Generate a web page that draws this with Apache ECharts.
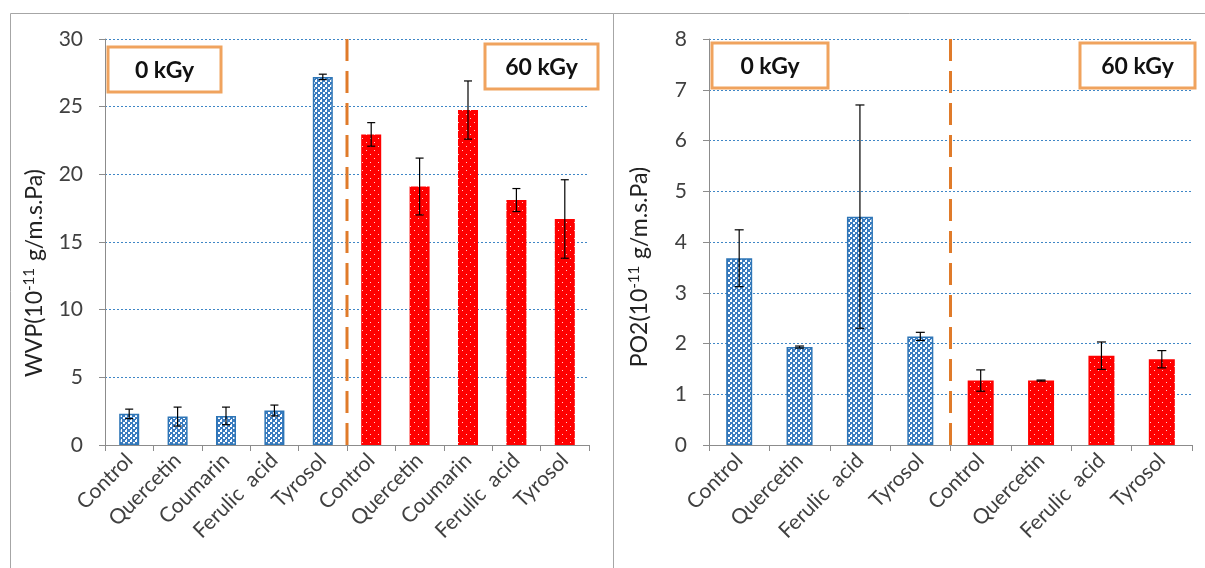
<!DOCTYPE html>
<html>
<head>
<meta charset="utf-8">
<script src="https://cdn.jsdelivr.net/npm/echarts@6/dist/echarts.min.js"></script>
<style>
html,body{margin:0;padding:0;background:#fff;}
#main{width:1205px;height:568px;}
</style>
</head>
<body>
<div id="main"></div>
<script>
// ---- data ----
const leftCategories = ['Control','Quercetin','Coumarin','Ferulic  acid','Tyrosol','Control','Quercetin','Coumarin','Ferulic  acid','Tyrosol'];
const leftValues0kGy = [2.3, 2.1, 2.15, 2.55, 27.2];
const leftErrors0kGy = [0.35, 0.7, 0.65, 0.4, 0.2];
const leftValues60kGy = [22.95, 19.1, 24.75, 18.1, 16.7];
const leftErrors60kGy = [0.87, 2.1, 2.15, 0.85, 2.9];

const rightCategories = ['Control','Quercetin','Ferulic  acid','Tyrosol','Control','Quercetin','Ferulic  acid','Tyrosol'];
const rightValues0kGy = [3.68, 1.93, 4.5, 2.14];
const rightErrors0kGy = [0.56, 0.02, 2.2, 0.08];
const rightValues60kGy = [1.27, 1.27, 1.76, 1.69];
const rightErrors60kGy = [0.21, 0.01, 0.27, 0.17];

const leftYTicks = {min: 0, max: 30, interval: 5};
const rightYTicks = {min: 0, max: 8, interval: 1};

// ---- patterns ----
function blueTile() {
  const c = document.createElement('canvas'); c.width = 5; c.height = 5;
  const g = c.getContext('2d');
  g.fillStyle = '#3a7cc0'; g.fillRect(0,0,5,5);
  g.fillStyle = '#ffffff'; g.fillRect(0,0,2,2); g.fillRect(3,2,2,2); g.fillRect(1,4,1,1);
  return c;
}
function redTile() {
  const c = document.createElement('canvas'); c.width = 8; c.height = 8;
  const g = c.getContext('2d');
  g.fillStyle = '#ff0000'; g.fillRect(0,0,8,8);
  g.fillStyle = '#ffd0d0'; g.fillRect(2,2,1,1); g.fillRect(6,6,1,1);
  return c;
}
const bluePattern = {image: blueTile(), repeat: 'repeat'};
const redPattern = {image: redTile(), repeat: 'repeat'};

const FONT = 'Lato, "Open Sans", sans-serif';
const ORANGE = '#e07b2a';

function pad(arr, before, after) {
  return Array(before).fill(null).concat(arr).concat(Array(after).fill(null));
}
function errData(vals, errs, offset) {
  return vals.map((v, i) => [i + offset, v, errs[i]]);
}
function errSeries(xi, data, cap) {
  return {
    type: 'custom', xAxisIndex: xi, yAxisIndex: xi, z: 5, silent: true,
    data: data,
    encode: {x: 0, y: 1},
    renderItem: function (params, api) {
      const i = api.value(0), v = api.value(1), e = api.value(2);
      const top = api.coord([i, v + e]);
      const bot = api.coord([i, v - e]);
      const st = {stroke: '#000', lineWidth: 1.2};
      return {type: 'group', children: [
        {type: 'line', shape: {x1: top[0], y1: top[1], x2: bot[0], y2: bot[1]}, style: st},
        {type: 'line', shape: {x1: top[0]-cap, y1: top[1], x2: top[0]+cap, y2: top[1]}, style: st},
        {type: 'line', shape: {x1: bot[0]-cap, y1: bot[1], x2: bot[0]+cap, y2: bot[1]}, style: st}
      ]};
    }
  };
}
function dividerSeries(xi, boundaryIndex, ymax) {
  return {
    type: 'custom', xAxisIndex: xi, yAxisIndex: xi, z: 4, silent: true,
    data: [[boundaryIndex, ymax]],
    encode: {x: 0, y: 1},
    renderItem: function (params, api) {
      const a = api.coord([api.value(0) - 1, 0]);
      const b = api.coord([api.value(0), api.value(1)]);
      const x = (a[0] + b[0]) / 2;
      return {type: 'line', shape: {x1: x, y1: b[1], x2: x, y2: a[1]},
        style: {stroke: ORANGE, lineWidth: 3, lineDash: [22, 10]}};
    }
  };
}

function xAxisCfg(gi, cats) {
  return {
    type: 'category', gridIndex: gi, data: cats,
    axisLine: {lineStyle: {color: '#8c8c8c', width: 1}},
    axisTick: {show: true, length: 6, lineStyle: {color: '#8c8c8c'}},
    axisLabel: {rotate: 45, fontSize: 21, color: '#404040', fontFamily: FONT, margin: 12, interval: 0},
    splitLine: {show: false}
  };
}
function yAxisCfg(gi, t) {
  return {
    type: 'value', gridIndex: gi, min: t.min, max: t.max, interval: t.interval,
    axisLine: {show: true, lineStyle: {color: '#8c8c8c', width: 1}},
    axisTick: {show: true, length: 6, lineStyle: {color: '#8c8c8c'}},
    axisLabel: {fontSize: 21, color: '#404040', fontFamily: FONT, margin: 22},
    splitLine: {show: true, lineStyle: {color: '#3f86c6', width: 1, type: [2, 2]}}
  };
}

function labelBox(x, y, w, h, txt) {
  return {
    type: 'group', x: x, y: y, children: [
      {type: 'rect', shape: {x: 0, y: 0, width: w, height: h},
        style: {fill: '#fff', stroke: '#f0a35e', lineWidth: 3}},
      {type: 'text', x: w / 2, y: h / 2 + 1,
        style: {text: txt, fill: '#111', font: 'bold 23px ' + FONT, align: 'center', verticalAlign: 'middle'}}
    ]
  };
}
function yTitle(x, y, main) {
  return {
    type: 'text', x: x, y: y, rotation: Math.PI / 2,
    style: {
      text: '{n|' + main + '(10}{s|-11}{n| g/m.s.Pa)}',
      align: 'center', verticalAlign: 'middle',
      rich: {
        n: {fontSize: 23, fontFamily: FONT, fill: '#222', color: '#222'},
        s: {fontSize: 15, fontFamily: FONT, fill: '#222', color: '#222', verticalAlign: 'top', padding: [0, 1, 11, 0]}
      }
    }
  };
}

const chart = echarts.init(document.getElementById('main'), null, {renderer: 'canvas'});
const nL = leftValues0kGy.length, nR = rightValues0kGy.length;
chart.setOption({
  animation: false,
  backgroundColor: '#fff',
  grid: [
    {left: 105, right: 616, top: 39, bottom: 123},
    {left: 709, right: 13, top: 39, bottom: 123}
  ],
  xAxis: [xAxisCfg(0, leftCategories), xAxisCfg(1, rightCategories)],
  yAxis: [yAxisCfg(0, leftYTicks), yAxisCfg(1, rightYTicks)],
  series: [
    {type: 'bar', xAxisIndex: 0, yAxisIndex: 0, barWidth: 20, barGap: '-100%',
      data: pad(leftValues0kGy, 0, leftValues60kGy.length),
      itemStyle: {color: bluePattern, borderColor: '#2e75b6', borderWidth: 1.5}},
    {type: 'bar', xAxisIndex: 0, yAxisIndex: 0, barWidth: 20, barGap: '-100%',
      data: pad(leftValues60kGy, nL, 0),
      itemStyle: {color: redPattern}},
    {type: 'bar', xAxisIndex: 1, yAxisIndex: 1, barWidth: 26, barGap: '-100%',
      data: pad(rightValues0kGy, 0, rightValues60kGy.length),
      itemStyle: {color: bluePattern, borderColor: '#2e75b6', borderWidth: 1.5}},
    {type: 'bar', xAxisIndex: 1, yAxisIndex: 1, barWidth: 26, barGap: '-100%',
      data: pad(rightValues60kGy, nR, 0),
      itemStyle: {color: redPattern}},
    errSeries(0, errData(leftValues0kGy, leftErrors0kGy, 0), 4),
    errSeries(0, errData(leftValues60kGy, leftErrors60kGy, nL), 4),
    errSeries(1, errData(rightValues0kGy, rightErrors0kGy, 0), 4.5),
    errSeries(1, errData(rightValues60kGy, rightErrors60kGy, nR), 4.5),
    dividerSeries(0, nL, leftYTicks.max),
    dividerSeries(1, nR, rightYTicks.max)
  ],
  graphic: [
    {type: 'rect', shape: {x: 10.5, y: 13.5, width: 603, height: 600}, style: {fill: 'none', stroke: '#a6a6a6', lineWidth: 1}, z: -10},
    {type: 'rect', shape: {x: 613.5, y: 13.5, width: 600, height: 600}, style: {fill: 'none', stroke: '#a6a6a6', lineWidth: 1}, z: -10},
    labelBox(108, 47, 113, 45, '0 kGy'),
    labelBox(485, 44, 113, 45, '60 kGy'),
    labelBox(712, 43, 116, 45, '0 kGy'),
    labelBox(1080, 43, 115, 45, '60 kGy'),
    yTitle(35, 273, 'WVP'),
    yTitle(640, 267, 'PO2')
  ]
});
</script>
</body>
</html>
